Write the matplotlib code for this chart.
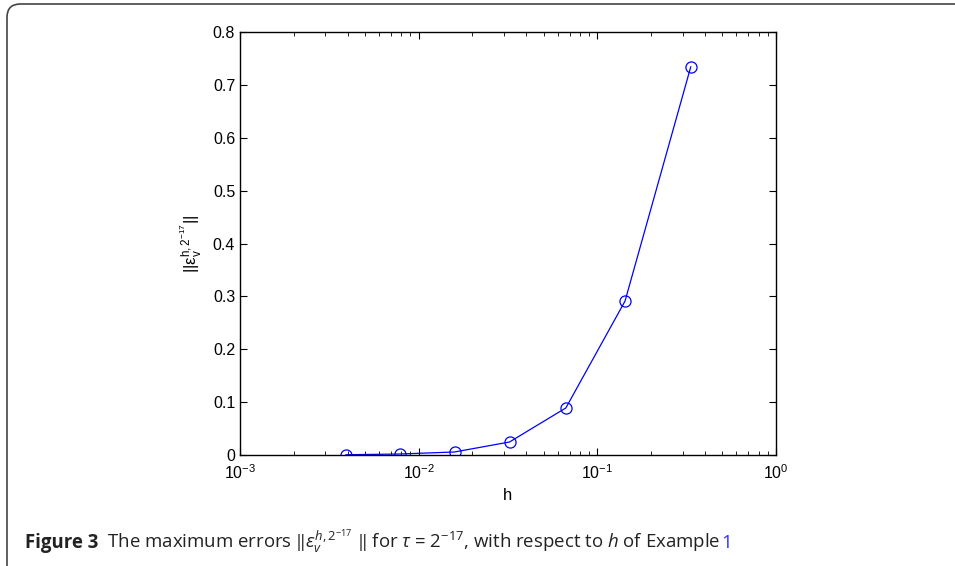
import numpy as np
import matplotlib
matplotlib.use('Agg')
import matplotlib.pyplot as plt
from matplotlib.patches import FancyBboxPatch

# data: h = 1/(2^k - 1), error
h = [1/255, 1/127, 1/63, 1/31, 1/15, 1/7, 1/3]
err = [0.0005, 0.0019, 0.0057, 0.0246, 0.089, 0.291, 0.734]

xticks = [1e-3, 1e-2, 1e-1, 1e0]
yticks = [0, 0.1, 0.2, 0.3, 0.4, 0.5, 0.6, 0.7, 0.8]
ytick_labels = ['0', '0.1', '0.2', '0.3', '0.4', '0.5', '0.6', '0.7', '0.8']

plt.rcParams['font.family'] = ['Liberation Sans', 'DejaVu Sans']
plt.rcParams['mathtext.fontset'] = 'custom'
plt.rcParams['mathtext.rm'] = 'Liberation Sans'
plt.rcParams['mathtext.it'] = 'Open Sans:italic'
plt.rcParams['mathtext.bf'] = 'Open Sans:bold'
plt.rcParams['mathtext.default'] = 'regular'

fig = plt.figure(figsize=(9.55, 5.66), dpi=100)
W, H = 955.0, 566.0

# rounded frame around figure + caption (runs off right/bottom edge)
frame = FancyBboxPatch((7/W, -20/H), 1.2, (566 - 4 + 20)/H,
                       boxstyle='round,pad=0,rounding_size=0.014',
                       transform=fig.transFigure, fill=False,
                       edgecolor='#444444', linewidth=1.2, mutation_aspect=W/H)
fig.patches.append(frame)

ax = fig.add_axes([240/W, 1 - 455/H, (776 - 240)/W, (455 - 32)/H])
ax.plot(h, err, color='blue', linewidth=0.9, marker='o', markersize=8,
        markerfacecolor='none', markeredgecolor='blue', markeredgewidth=0.9)
ax.set_xscale('log')
ax.set_xlim(1e-3, 1e0)
ax.set_ylim(0, 0.8)
ax.set_xticks(xticks)
ax.set_yticks(yticks)
ax.set_yticklabels(ytick_labels)
ax.tick_params(which='both', direction='in', top=True, right=True, labelsize=11.5)
ax.tick_params(which='major', length=5, width=0.8)
ax.tick_params(which='minor', length=3, width=0.6)
ax.tick_params(axis='x', which='major', pad=6)
for s in ax.spines.values():
    s.set_linewidth(1.0)

ax.set_xlabel('h', fontsize=12, labelpad=4)
ax.set_ylabel(r'$||\epsilon_v^{h,2^{-17}}||$', fontsize=12, labelpad=6)

# caption, pieced together left to right
y_cap = 1 - 548/H
cap_kw = dict(fontsize=13.4, family='Open Sans', va='baseline')
t1 = fig.text(25/W, y_cap, 'Figure 3', fontweight='bold', color='#222222', **cap_kw)
fig.canvas.draw()
r = fig.canvas.get_renderer()
bb = t1.get_window_extent(r)
t2 = fig.text(bb.x1 / fig.bbox.width, y_cap,
              '  The maximum errors $\\Vert\\mathit{\\varepsilon}_{\\mathit{v}}^{\\mathit{h},2^{-17}}\\ \\Vert$ for '
              '$\\mathit{\\tau}$ = 2$^{-17}$, with respect to $\\mathit{h}$ of Example ',
              color='#222222', **cap_kw)
fig.canvas.draw()
bb2 = t2.get_window_extent(r)
fig.text(bb2.x1 / fig.bbox.width, y_cap, '1', color='#3333ff', **cap_kw)

fig.savefig('out.png', dpi=100)
